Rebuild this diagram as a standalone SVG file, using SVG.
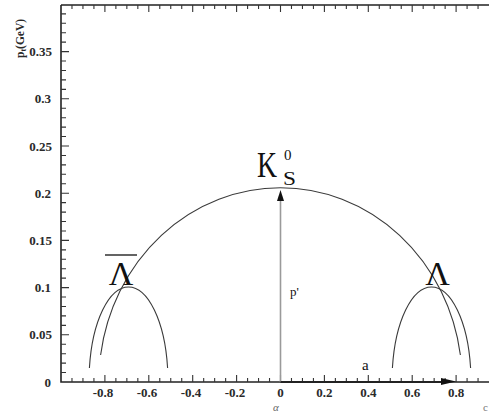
<svg xmlns="http://www.w3.org/2000/svg" width="489" height="417" viewBox="0 0 489 417">
<style>
.ax{stroke:#222;stroke-width:1.6;fill:none}
.tk{stroke:#333;stroke-width:1.1;fill:none}
.cv{stroke:#3a3a3a;stroke-width:1.1;fill:none}
.tl{font-family:"Liberation Serif",serif;font-weight:bold;font-size:13px;fill:#2a2a2a}
.big{font-family:"Liberation Serif",serif;fill:#111}
</style>
<rect width="489" height="417" fill="#fff"/>
<g id="axes">
<path class="ax" d="M61 5V382H489M61 5H489"/>
<path class="tk" d="M71.98 382v-4M82.95 382v-4M93.93 382v-4M104.9 382v-7M115.88 382v-4M126.85 382v-4M137.83 382v-4M148.8 382v-7M159.78 382v-4M170.75 382v-4M181.73 382v-4M192.7 382v-7M203.68 382v-4M214.65 382v-4M225.63 382v-4M236.6 382v-7M247.58 382v-4M258.55 382v-4M269.53 382v-4M280.5 382v-7M291.48 382v-4M302.45 382v-4M313.43 382v-4M324.4 382v-7M335.38 382v-4M346.35 382v-4M357.33 382v-4M368.3 382v-7M379.28 382v-4M390.25 382v-4M401.23 382v-4M412.2 382v-7M423.18 382v-4M434.15 382v-4M445.13 382v-4M456.1 382v-7M467.08 382v-4M478.05 382v-4"/>
<path class="tk" d="M71.98 5v4M82.95 5v4M93.93 5v4M104.9 5v7M115.88 5v4M126.85 5v4M137.83 5v4M148.8 5v7M159.78 5v4M170.75 5v4M181.73 5v4M192.7 5v7M203.68 5v4M214.65 5v4M225.63 5v4M236.6 5v7M247.58 5v4M258.55 5v4M269.53 5v4M280.5 5v7M291.48 5v4M302.45 5v4M313.43 5v4M324.4 5v7M335.38 5v4M346.35 5v4M357.33 5v4M368.3 5v7M379.28 5v4M390.25 5v4M401.23 5v4M412.2 5v7M423.18 5v4M434.15 5v4M445.13 5v4M456.1 5v7M467.08 5v4M478.05 5v4"/>
<path class="tk" d="M61 372.56h5M61 363.12h5M61 353.68h5M61 344.24h5M61 334.8h8M61 325.36h5M61 315.92h5M61 306.48h5M61 297.04h5M61 287.6h8M61 278.16h5M61 268.72h5M61 259.28h5M61 249.84h5M61 240.4h8M61 230.96h5M61 221.52h5M61 212.08h5M61 202.64h5M61 193.2h8M61 183.76h5M61 174.32h5M61 164.88h5M61 155.44h5M61 146h8M61 136.56h5M61 127.12h5M61 117.68h5M61 108.24h5M61 98.8h8M61 89.36h5M61 79.92h5M61 70.48h5M61 61.04h5M61 51.6h8M61 42.16h5M61 32.72h5M61 23.28h5M61 13.84h5"/>
</g>
<g id="tick-labels" class="tl">
<g text-anchor="end">
<text x="51" y="386.5">0</text>
<text x="52" y="339.3">0.05</text>
<text x="51" y="292.1">0.1</text>
<text x="52" y="244.9">0.15</text>
<text x="51" y="197.7">0.2</text>
<text x="52" y="150.5">0.25</text>
<text x="51" y="103.3">0.3</text>
<text x="52" y="56.1">0.35</text>
</g>
<g text-anchor="middle">
<text x="103" y="397">-0.8</text>
<text x="147" y="397">-0.6</text>
<text x="191" y="397">-0.4</text>
<text x="235" y="397">-0.2</text>
<text x="280.5" y="397">0</text>
<text x="324.4" y="397">0.2</text>
<text x="368.3" y="397">0.4</text>
<text x="412.2" y="397">0.6</text>
<text x="456.1" y="397">0.8</text>
</g>
<text transform="translate(24,58) rotate(-90)" font-size="11.5">p<tspan font-size="8" dy="2">t</tspan><tspan dy="-2">(GeV)</tspan></text>
<text x="276" y="411" font-size="11" font-weight="normal" font-style="italic" fill="#666" text-anchor="middle">α</text>
<text x="483" y="411" font-size="11" font-weight="normal" fill="#777">c</text>
</g>
<g id="connectors">
<path id="k0s-ellipse" class="cv" d="M100.6 355A181.7 194.5 0 0 1 460.4 355"/>
<path id="lambdabar-ellipse" class="cv" d="M89.4 368A39.5 94.4 0 0 1 167.6 368"/>
<path id="lambda-ellipse" class="cv" d="M392.4 368A39.5 94.4 0 0 1 470.6 368"/>
<g id="arrow-p">
<line x1="280.5" y1="382" x2="280.5" y2="198" stroke="#9a9a9a" stroke-width="1.6"/>
<polygon points="280.5,190 277,201 284,201" fill="#111"/>
</g>
<g id="arrow-a">
<line x1="280.5" y1="382" x2="445" y2="382" stroke="#222" stroke-width="1.8"/>
<polygon points="456,381.5 441,378 441,385" fill="#111"/>
</g>
</g>
<g id="labels">
<g id="label-k0s">
<text class="big" x="257" y="177" font-size="35" textLength="20" lengthAdjust="spacingAndGlyphs">K</text>
<text class="big" x="283" y="185" font-size="18" textLength="13" lengthAdjust="spacingAndGlyphs">S</text>
<text class="big" x="284" y="160" font-size="15">0</text>
</g>
<g id="label-lambdabar">
<line x1="105" y1="255" x2="137" y2="255" stroke="#222" stroke-width="1.4"/>
<text class="big" x="121" y="285" font-size="34" text-anchor="middle">Λ</text>
</g>
<text id="label-lambda" class="big" x="437.5" y="285" font-size="34" text-anchor="middle">Λ</text>
<text id="label-pprime" class="big" x="290" y="296" font-size="13">p'</text>
<text id="label-a" class="big" x="362" y="370" font-size="15">a</text>
</g>
</svg>
